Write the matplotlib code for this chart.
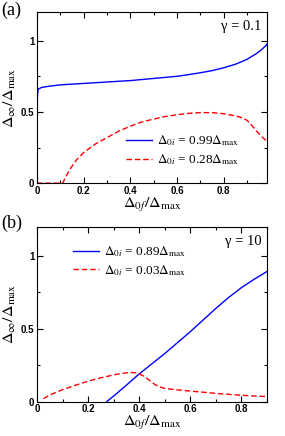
import numpy as np
import matplotlib
matplotlib.use('Agg')
import matplotlib.pyplot as plt
from matplotlib.ticker import MultipleLocator, FixedLocator, FixedFormatter

plt.rcParams['mathtext.fontset'] = 'stix'
plt.rcParams['font.family'] = ['Liberation Serif', 'DejaVu Serif']

# panel (a): gamma = 0.1
a_blue_x = [0.0, 0.002, 0.005, 0.02, 0.05, 0.1, 0.2, 0.3, 0.4, 0.5, 0.6, 0.65, 0.7, 0.75, 0.8, 0.85, 0.88, 0.9, 0.92, 0.94, 0.96, 0.98, 0.99]
a_blue_y = [0.50, 0.62, 0.66, 0.672, 0.68, 0.69, 0.70, 0.71, 0.72, 0.735, 0.75, 0.762, 0.775, 0.79, 0.81, 0.835, 0.855, 0.87, 0.89, 0.91, 0.935, 0.965, 0.99]
a_red_x = [0.0, 0.11, 0.12, 0.14, 0.17, 0.2, 0.25, 0.3, 0.35, 0.4, 0.45, 0.5, 0.55, 0.6, 0.65, 0.7, 0.75, 0.8, 0.85, 0.88, 0.9, 0.92, 0.94, 0.96, 0.98]
a_red_y = [0.0, 0.0, 0.035, 0.095, 0.165, 0.215, 0.275, 0.32, 0.365, 0.40, 0.43, 0.45, 0.468, 0.48, 0.49, 0.495, 0.495, 0.487, 0.472, 0.458, 0.44, 0.405, 0.365, 0.33, 0.30]

# panel (b): gamma = 10
b_blue_x = [0.273, 0.3, 0.35, 0.4, 0.45, 0.5, 0.55, 0.6, 0.65, 0.7, 0.75, 0.8, 0.85, 0.9]
b_blue_y = [0.0, 0.038, 0.113, 0.19, 0.26, 0.33, 0.405, 0.48, 0.56, 0.64, 0.715, 0.782, 0.84, 0.893]
b_red_x = [0.025, 0.05, 0.1, 0.15, 0.2, 0.25, 0.3, 0.33, 0.36, 0.38, 0.4, 0.42, 0.44, 0.46, 0.48, 0.5, 0.55, 0.6, 0.7, 0.8, 0.9]
b_red_y = [0.02, 0.045, 0.082, 0.112, 0.14, 0.163, 0.183, 0.193, 0.199, 0.199, 0.19, 0.172, 0.145, 0.118, 0.1, 0.09, 0.08, 0.072, 0.056, 0.043, 0.034]

fig = plt.figure(figsize=(2.85, 4.36), dpi=100)
ax1 = fig.add_axes([0.130, 0.580, 0.807, 0.392])
ax2 = fig.add_axes([0.130, 0.079, 0.807, 0.401])


def style(ax, xmax):
    ax.set_xlim(0, xmax)
    ax.set_ylim(0, 1.2)
    ax.xaxis.set_major_locator(FixedLocator([0, 0.2, 0.4, 0.6, 0.8]))
    ax.xaxis.set_major_formatter(FixedFormatter(['0', '0.2', '0.4', '0.6', '0.8']))
    ax.xaxis.set_minor_locator(MultipleLocator(0.1))
    ax.yaxis.set_major_locator(FixedLocator([0, 0.5, 1]))
    ax.yaxis.set_major_formatter(FixedFormatter(['0', '0.5', '1']))
    ax.yaxis.set_minor_locator(MultipleLocator(0.25))
    ax.tick_params(which='both', direction='in', top=True, right=True, width=0.8, pad=2)
    ax.tick_params(which='major', length=4)
    ax.tick_params(which='minor', length=2)
    for lab in ax.get_xticklabels() + ax.get_yticklabels():
        lab.set_family('Liberation Sans')
        lab.set_weight('bold')
        lab.set_fontsize(7)
    for s in ax.spines.values():
        s.set_linewidth(0.8)
    ax.set_xlabel(r'$\Delta_{0f}/\Delta_{\rm max}$', fontsize=11.5, labelpad=0)
    ax.set_ylabel(r'$\Delta_{\infty}/\Delta_{\rm max}$', fontsize=11.5, labelpad=2)


style(ax1, 0.985)
style(ax2, 0.9)

leg_kw = dict(frameon=False, fontsize=9.5, handlelength=2.0, handletextpad=0.4,
              labelspacing=0.3, borderpad=0, borderaxespad=0)

ax1.plot(a_blue_x, a_blue_y, color='blue', lw=1, label=r'$\Delta_{0i}$ = 0.99$\Delta_{\rm max}$')
ax1.plot(a_red_x, a_red_y, color='red', lw=1, ls=(0, (4, 2)), label=r'$\Delta_{0i}$ = 0.28$\Delta_{\rm max}$')
ax1.legend(loc='upper left', bbox_to_anchor=(0.385, 0.29), **leg_kw)
ax1.text(0.975, 0.955, 'γ = 0.1', transform=ax1.transAxes, ha='right', va='top', fontsize=10.5)

ax2.plot(b_blue_x, b_blue_y, color='blue', lw=1, label=r'$\Delta_{0i}$ = 0.89$\Delta_{\rm max}$')
ax2.plot(b_red_x, b_red_y, color='red', lw=1, ls=(0, (4, 2)), label=r'$\Delta_{0i}$ = 0.03$\Delta_{\rm max}$')
ax2.legend(loc='upper left', bbox_to_anchor=(0.155, 0.9), **leg_kw)
ax2.text(0.975, 0.955, 'γ = 10', transform=ax2.transAxes, ha='right', va='top', fontsize=10.5)

fig.text(0.003, 0.997, '(a)', ha='left', va='top', fontsize=13)
fig.text(0.003, 0.508, '(b)', ha='left', va='top', fontsize=13)

fig.savefig('out.png', dpi=100)
